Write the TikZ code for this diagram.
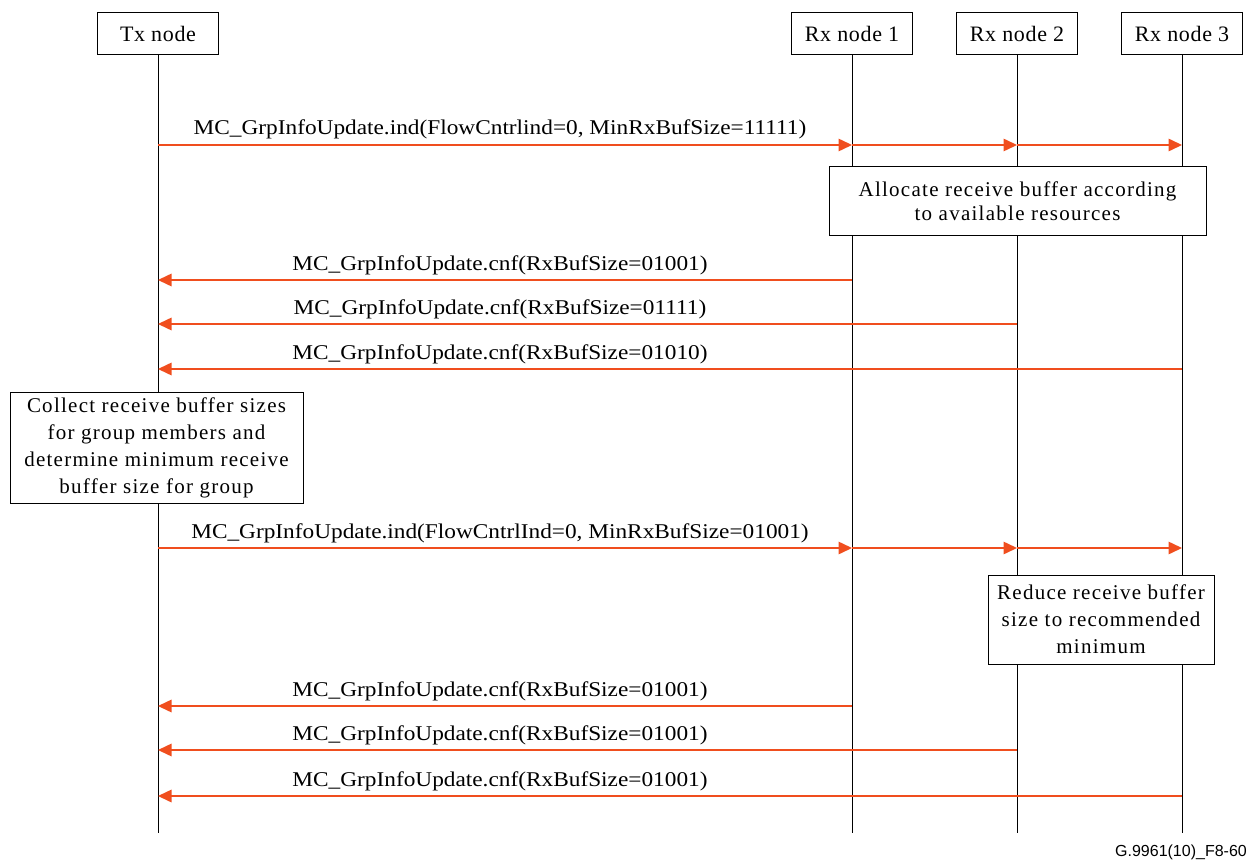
\documentclass[tikz,border=0pt]{standalone}
\usepackage{fontspec}
\setmainfont{Liberation Serif}
\newfontfamily\footfont{Liberation Sans}
\newfontfamily\lblfont[FakeStretch=1.11]{Liberation Serif}
\newfontfamily\boxfont[LetterSpace=6]{Liberation Serif}
\newfontfamily\headfont[LetterSpace=3]{Liberation Serif}
\usetikzlibrary{arrows.meta}
\definecolor{arr}{RGB}{240,78,30}
\begin{document}
\begin{tikzpicture}[x=1pt,y=-1pt,
 head/.style={draw,line width=1pt,minimum width=121pt,minimum height=42pt,inner sep=0pt,font=\headfont\fontsize{22}{26}\selectfont},
 note/.style={draw,fill=white,line width=1pt,align=center,inner sep=0pt,font=\boxfont\fontsize{21}{27}\selectfont},
 life/.style={line width=1pt},
 msg/.style={draw=arr,line width=1.5pt,-{Triangle[length=13.5pt,width=12.5pt]}},
 lbl/.style={font=\lblfont\fontsize{21}{24}\selectfont,anchor=base}]
\useasboundingbox (0,0) rectangle (1247,861);
% heads
\node[head] (tx) at (158,34) {Tx node};
\node[head] (r1) at (852,34) {Rx node 1};
\node[head] (r2) at (1017,34) {Rx node 2};
\node[head] (r3) at (1182,34) {Rx node 3};
% lifeline ends
\coordinate (txe) at (158,833);
\coordinate (r1e) at (852,833);
\coordinate (r2e) at (1017,833);
\coordinate (r3e) at (1182,833);
\draw[life] (tx) -- (txe);
\draw[life] (r1) -- (r1e);
\draw[life] (r2) -- (r2e);
\draw[life] (r3) -- (r3e);
% message points
\foreach \n/\y in {1/145,2/280,3/324,4/369,5/548,6/706,7/750,8/796}{
  \coordinate (t\n) at (158,\y);
  \coordinate (a\n) at (852,\y);
  \coordinate (b\n) at (1017,\y);
  \coordinate (c\n) at (1182,\y);
}
% notes
\node[note,minimum width=377pt,minimum height=68pt,font=\boxfont\fontsize{21}{24}\selectfont] (alloc) at (1017.5,201) {Allocate receive buffer according\\to available resources};
\node[note,minimum width=293pt,minimum height=111pt] (coll) at (156.5,447.5) {Collect receive buffer sizes\\for group members and\\determine minimum receive\\buffer size for group};
\node[note,minimum width=226pt,minimum height=89pt] (red) at (1101,619.5) {Reduce receive buffer\\size to recommended\\minimum};
% messages
\draw[msg] (t1) -- (a1);
\draw[msg] (a1) -- (b1);
\draw[msg] (b1) -- (c1);
\node[lbl] (l1) at (500,135) {MC\_GrpInfoUpdate.ind(FlowCntrlind=0, MinRxBufSize=11111)};
\draw[msg] (a2) -- (t2);
\node[lbl] (l2) at (500,270) {MC\_GrpInfoUpdate.cnf(RxBufSize=01001)};
\draw[msg] (b3) -- (t3);
\node[lbl] (l3) at (500,314) {MC\_GrpInfoUpdate.cnf(RxBufSize=01111)};
\draw[msg] (c4) -- (t4);
\node[lbl] (l4) at (500,359) {MC\_GrpInfoUpdate.cnf(RxBufSize=01010)};
\draw[msg] (t5) -- (a5);
\draw[msg] (a5) -- (b5);
\draw[msg] (b5) -- (c5);
\node[lbl] (l5) at (500,538) {MC\_GrpInfoUpdate.ind(FlowCntrlInd=0, MinRxBufSize=01001)};
\draw[msg] (a6) -- (t6);
\node[lbl] (l6) at (500,696) {MC\_GrpInfoUpdate.cnf(RxBufSize=01001)};
\draw[msg] (b7) -- (t7);
\node[lbl] (l7) at (500,740) {MC\_GrpInfoUpdate.cnf(RxBufSize=01001)};
\draw[msg] (c8) -- (t8);
\node[lbl] (l8) at (500,786) {MC\_GrpInfoUpdate.cnf(RxBufSize=01001)};
% footer
\node[anchor=base east,inner sep=0pt,font=\footfont\fontsize{16}{18}\selectfont] (fig) at (1247,856) {G.9961(10)\_F8-60};
\end{tikzpicture}
\end{document}
